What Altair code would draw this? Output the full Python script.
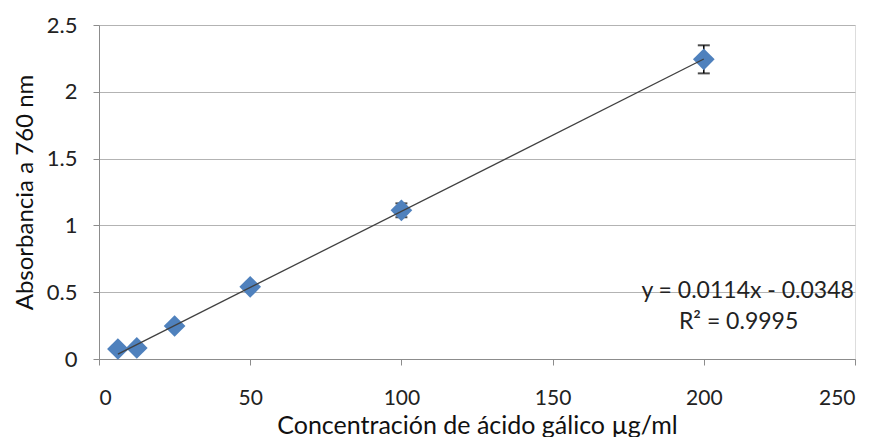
import altair as alt
import pandas as pd

# Data
conc = [6.25, 12.5, 25, 50, 100, 200]
absorb = [0.075, 0.083, 0.247, 0.54, 1.113, 2.243]
err = [0.01, 0.01, 0.012, 0.02, 0.052, 0.105]

slope = 0.0114
intercept = -0.0348

eq_labels = ["y = 0.0114x - 0.0348", "R² = 0.9995"]
eq_x = [214.5, 211.5]
eq_y = [0.51, 0.277]

FONT = "Lato"

pts = pd.DataFrame({
    "x": conc,
    "y": absorb,
    "lo": [a - e for a, e in zip(absorb, err)],
    "hi": [a + e for a, e in zip(absorb, err)],
})
trend = pd.DataFrame({
    "x": [min(conc), max(conc)],
    "y": [slope * min(conc) + intercept, slope * max(conc) + intercept],
})
ann = pd.DataFrame({"x": eq_x, "y": eq_y, "t": eq_labels})

xs = alt.Scale(domain=[0, 250], nice=False)
ys = alt.Scale(domain=[0, 2.5], nice=False)

xax = alt.Axis(
    title="Concentración de ácido gálico µg/ml",
    values=[0, 50, 100, 150, 200, 250],
    format="d",
    grid=False,
    domainColor="#8c8c8c",
    tickColor="#8c8c8c",
    tickSize=6,
    labelPadding=22,
    labelFont=FONT,
    labelFontSize=21,
    labelColor="#222222",
    titleFont=FONT,
    titleFontSize=25,
    titleFontWeight="normal",
    titleColor="#111111",
    titlePadding=5,
)
yax = alt.Axis(
    title="Absorbancia a 760 nm",
    values=[0, 0.5, 1, 1.5, 2, 2.5],
    format="~r",
    grid=True,
    gridColor="#b3b3b3",
    domainColor="#8c8c8c",
    tickColor="#8c8c8c",
    tickSize=6,
    labelPadding=16,
    labelFont=FONT,
    labelFontSize=22,
    labelColor="#222222",
    titleFont=FONT,
    titleFontSize=24,
    titleFontWeight="normal",
    titleColor="#111111",
    titlePadding=9,
)

base = alt.Chart(pts)

markers = base.mark_point(
    shape="diamond", filled=True, size=470, color="#4f81bd", opacity=1
).encode(
    x=alt.X("x:Q", scale=xs, axis=xax),
    y=alt.Y("y:Q", scale=ys, axis=yax),
)

bars = base.mark_rule(color="black", strokeWidth=1.5).encode(
    x="x:Q", y="lo:Q", y2="hi:Q"
)
cap_lo = base.mark_tick(color="black", thickness=2, size=12, orient="horizontal").encode(
    x="x:Q", y="lo:Q"
)
cap_hi = base.mark_tick(color="black", thickness=2, size=12, orient="horizontal").encode(
    x="x:Q", y="hi:Q"
)

line = alt.Chart(trend).mark_line(color="#404040", strokeWidth=1.3).encode(
    x="x:Q", y="y:Q"
)

text = alt.Chart(ann).mark_text(
    font=FONT, fontSize=23, align="center", baseline="middle", color="#222222"
).encode(x="x:Q", y="y:Q", text="t:N")

chart = alt.layer(bars, cap_lo, cap_hi, markers, line, text).properties(
    width=756,
    height=334,
    autosize=alt.AutoSizeParams(type="none"),
    padding={"left": 91, "top": 17, "right": 16, "bottom": 78},
).configure_view(stroke=None).configure(background="white")

chart.save("out.html", embed_options={"renderer": "svg", "actions": False})
